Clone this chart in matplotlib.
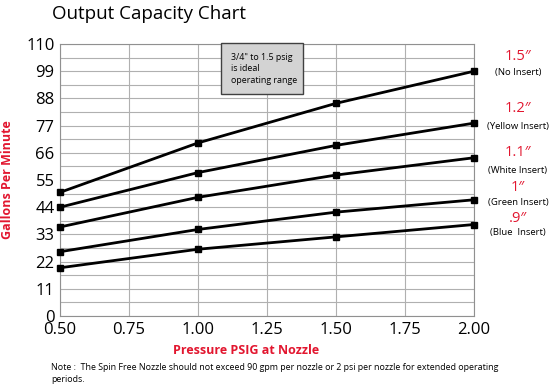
import numpy as np
import matplotlib.pyplot as plt
from matplotlib.patches import Rectangle

plt.rcParams['font.family'] = ['Open Sans', 'DejaVu Sans']

pressure = [0.5, 1.0, 1.5, 2.0]
no_insert = [50, 70, 86, 99]
yellow_insert = [44, 58, 69, 78]
white_insert = [36, 48, 57, 64]
green_insert = [26, 35, 42, 47]
blue_insert = [19.5, 27, 32, 37]
series = [no_insert, yellow_insert, white_insert, green_insert, blue_insert]

sizes = ['1.5\u2033', '1.2\u2033', '1.1\u2033', '1\u2033', '.9\u2033']
inserts = ['(No Insert)', '(Yellow Insert)', '(White Insert)', '(Green Insert)', '(Blue  Insert)']
size_y = [56, 109, 153, 187, 218]      # pixel rows of the red size labels
insert_y = [73, 126, 171, 203, 233]    # pixel rows of the insert labels

y_ticks = np.arange(0, 111, 11)
x_ticks = [0.5, 0.75, 1.0, 1.25, 1.5, 1.75, 2.0]

red = '#e2162f'
W, H = 554, 387

fig = plt.figure(figsize=(W / 100, H / 100), dpi=100)
ax = fig.add_axes([60 / W, 1 - 316 / H, 414 / W, 272 / H])

for s in series:
    ax.plot(pressure, s, color='black', lw=2, marker='s', ms=5, clip_on=False, zorder=3)

ax.set_xlim(0.5, 2.0)
ax.set_ylim(0, 110)
ax.set_xticks(x_ticks)
ax.set_xticklabels(['%.2f' % v for v in x_ticks])
ax.set_yticks(y_ticks)
ax.set_yticks(np.arange(5.5, 110, 11), minor=True)
ax.tick_params(length=0, labelsize=12, pad=4)
ax.tick_params(which='minor', length=0)
ax.grid(True, which='both', color='#b0b0b0', lw=0.8)
for sp in ax.spines.values():
    sp.set_color('#909090')
    sp.set_linewidth(0.8)

# note box
ax.add_patch(Rectangle((1.083, 89.8), 0.297, 20.6, facecolor='#d3d3d3', edgecolor='#404040',
                       lw=1, clip_on=False, zorder=4))
ax.text(1.12, 106.5, '3/4" to 1.5 psig\nis ideal\noperating range', fontsize=6.4,
        va='top', ha='left', linespacing=1.35, zorder=5)

fig.text(52 / W, 1 - 14 / H, 'Output Capacity Chart', fontsize=13.5, va='center', ha='left')
fig.text(8 / W, 1 - 180 / H, 'Gallons Per Minute', fontsize=9, fontweight='bold', color=red,
         rotation=90, va='center', ha='center')
fig.text(246 / W, 1 - 350 / H, 'Pressure PSIG at Nozzle', fontsize=9, fontweight='bold',
         color=red, va='center', ha='center')
fig.text(51 / W, 1 - 367 / H, 'Note :  The Spin Free Nozzle should not exceed 90 gpm per nozzle '
         'or 2 psi per nozzle for extended operating', fontsize=6.4, va='center', ha='left')
fig.text(51 / W, 1 - 380 / H, 'periods.', fontsize=6.4, va='center', ha='left')

for lab, yy in zip(sizes, size_y):
    fig.text(518 / W, 1 - yy / H, lab, fontsize=10.5, color=red, va='center', ha='center')
for lab, yy in zip(inserts, insert_y):
    fig.text(518 / W, 1 - yy / H, lab, fontsize=6.8, va='center', ha='center')

fig.savefig('out.png', dpi=100)
